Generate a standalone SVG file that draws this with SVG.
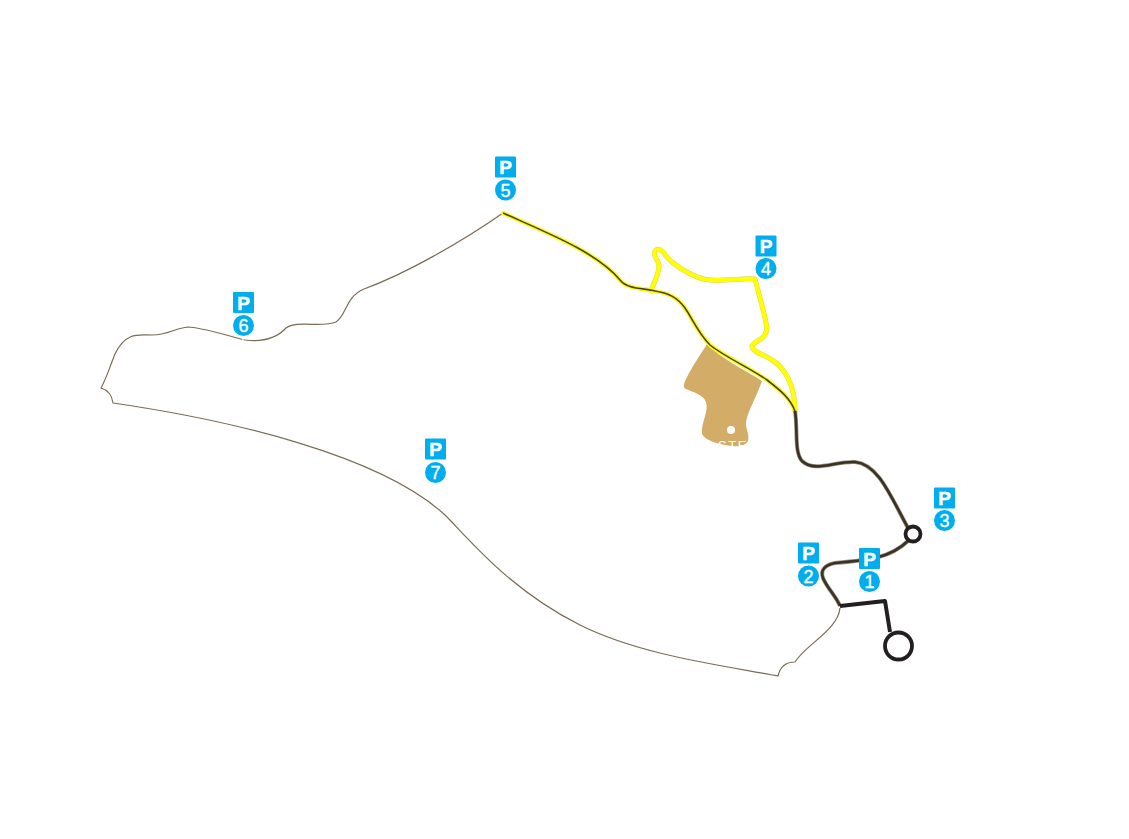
<svg xmlns="http://www.w3.org/2000/svg" width="1129" height="839" viewBox="0 0 1129 839">
<style>
.outline{fill:none;stroke:#7a6d58;stroke-width:1.2}
.ylo{fill:none;stroke:#d8d26a;stroke-width:5;stroke-linejoin:round;stroke-linecap:round}
.yl{fill:none;stroke:#ffff00;stroke-width:4.2;stroke-linejoin:round;stroke-linecap:round}
.yc{fill:none;stroke:#4a4030;stroke-width:1.6}
.dko{fill:none;stroke:#9a917f;stroke-width:4;stroke-linejoin:round}
.dk{fill:none;stroke:#3b3226;stroke-width:2.6;stroke-linejoin:round}
.bk{fill:none;stroke:#231f20;stroke-width:4;stroke-linejoin:round}
.sign{fill:#00aeef}
.pt{font-family:"Liberation Sans",Arial,sans-serif;font-weight:700;font-size:19px;fill:#fff;stroke:#fff;stroke-width:.5;text-anchor:middle}
.nt{font-family:"Liberation Sans",Arial,sans-serif;font-size:18px;fill:#fff;stroke:#fff;stroke-width:.4;text-anchor:middle}
</style>
<defs>
<g id="psign"><rect class="sign" x="-10.5" y="-10.5" width="21" height="21" rx="1"/><text class="pt" y="7">P</text></g>
</defs>
<g id="land">
<path class="outline" d="M503 213C460 243 405 274 364 289C345 297 347 315 336 322C322 328 297 320 286 328C276 339 262 342 245 340C225 335 200 327 188 327C175 328 168 335 152 335C140 335 126 331 115 354C110 366 107 377 101 388C108 390 112 396 113 403C230 420 380 455 445 515C470 540 510 590 580 625C640 655 720 665 778 676C780 667 786 662 795 662C805 645 838 630 840 608"/>
<path d="M243 336.500V341" stroke="#fff" stroke-width="1.4" fill="none"/>
</g>
<g id="site">
<path fill="#d3ac67" d="M707 344C720 358 745 370 762 381C757 396 748 410 746 422C745 428 750 434 748 441C745 447 735 447 725 445C715 443 705 440 702 434C701 422 709 412 706 402C703 394 692 392 686 389C682 387 684 383 687 377C692 367 700 355 707 344Z"/>
<circle cx="731" cy="430" r="4" fill="#fff"/>
<text x="733" y="450" font-family="Liberation Sans,Arial,sans-serif" font-size="13" letter-spacing="1.500" fill="#fff" text-anchor="middle">STE</text>
</g>
<g id="connectors">
<path class="ylo" d="M651 291C654 282 659 274 659 266C659 260 652 256 655 251C659 247 663 251 667 257C675 266 695 279 710 280C725 281 745 278 755 279C759 295 765 315 767 328C766 340 755 340 752 346C752 352 765 355 772 360C785 368 795 385 795 411"/>
<path class="yl" d="M651 291C654 282 659 274 659 266C659 260 652 256 655 251C659 247 663 251 667 257C675 266 695 279 710 280C725 281 745 278 755 279C759 295 765 315 767 328C766 340 755 340 752 346C752 352 765 355 772 360C785 368 795 385 795 411"/>
<path class="yl" d="M503 213C545 232 597 252 620 280C628 290 645 288 655 291C668 293 677 297 685 308C692 318 698 333 710 345C725 357 750 368 767 380C780 390 790 398 795 411"/>
<path class="yc" d="M503 213C545 232 597 252 620 280C628 290 645 288 655 291C668 293 677 297 685 308C692 318 698 333 710 345C725 357 750 368 767 380C780 390 790 398 795 411"/>
<path class="dko" d="M795 411C798 430 794 452 802 461C815 473 835 461 855 462C878 464 890 495 908 528"/>
<path class="dk" d="M795 411C798 430 794 452 802 461C815 473 835 461 855 462C878 464 890 495 908 528"/>
<path class="dko" d="M908 541C890 558 870 560 835 563C825 565 820 570 823 578C827 588 836 596 840 606"/>
<path class="dk" d="M908 541C890 558 870 560 835 563C825 565 820 570 823 578C827 588 836 596 840 606"/>
<path class="bk" d="M840 606L885 601L890 632"/>
<circle cx="913" cy="534" r="7.500" fill="#fff" stroke="#231f20" stroke-width="3.800"/>
<circle cx="898.500" cy="646" r="13.500" fill="#fff" stroke="#231f20" stroke-width="3.800"/>
</g>
<g id="p5"><use href="#psign" x="505.500" y="167"/><circle class="sign" cx="505.500" cy="190" r="10.500"/><text class="nt" x="505.500" y="196.500">5</text></g>
<g id="p6"><use href="#psign" x="243.500" y="302.500"/><circle class="sign" cx="243.500" cy="325.500" r="10.500"/><text class="nt" x="243.500" y="332">6</text></g>
<g id="p4"><use href="#psign" x="766" y="246"/><circle class="sign" cx="766" cy="268.500" r="10.500"/><text class="nt" x="766" y="275">4</text></g>
<g id="p7"><use href="#psign" x="435.500" y="449"/><circle class="sign" cx="435.500" cy="472.500" r="10.500"/><text class="nt" x="435.500" y="479">7</text></g>
<g id="p3"><use href="#psign" x="944.500" y="498"/><circle class="sign" cx="944.500" cy="520.500" r="10.500"/><text class="nt" x="944.500" y="527">3</text></g>
<g id="p2"><use href="#psign" x="808.500" y="553"/><circle class="sign" cx="808.500" cy="576" r="10.500"/><text class="nt" x="808.500" y="582.500">2</text></g>
<g id="p1"><use href="#psign" x="869.500" y="558.500"/><circle class="sign" cx="869.500" cy="581.500" r="10.500"/><text class="nt" x="869.500" y="588">1</text></g>
</svg>
